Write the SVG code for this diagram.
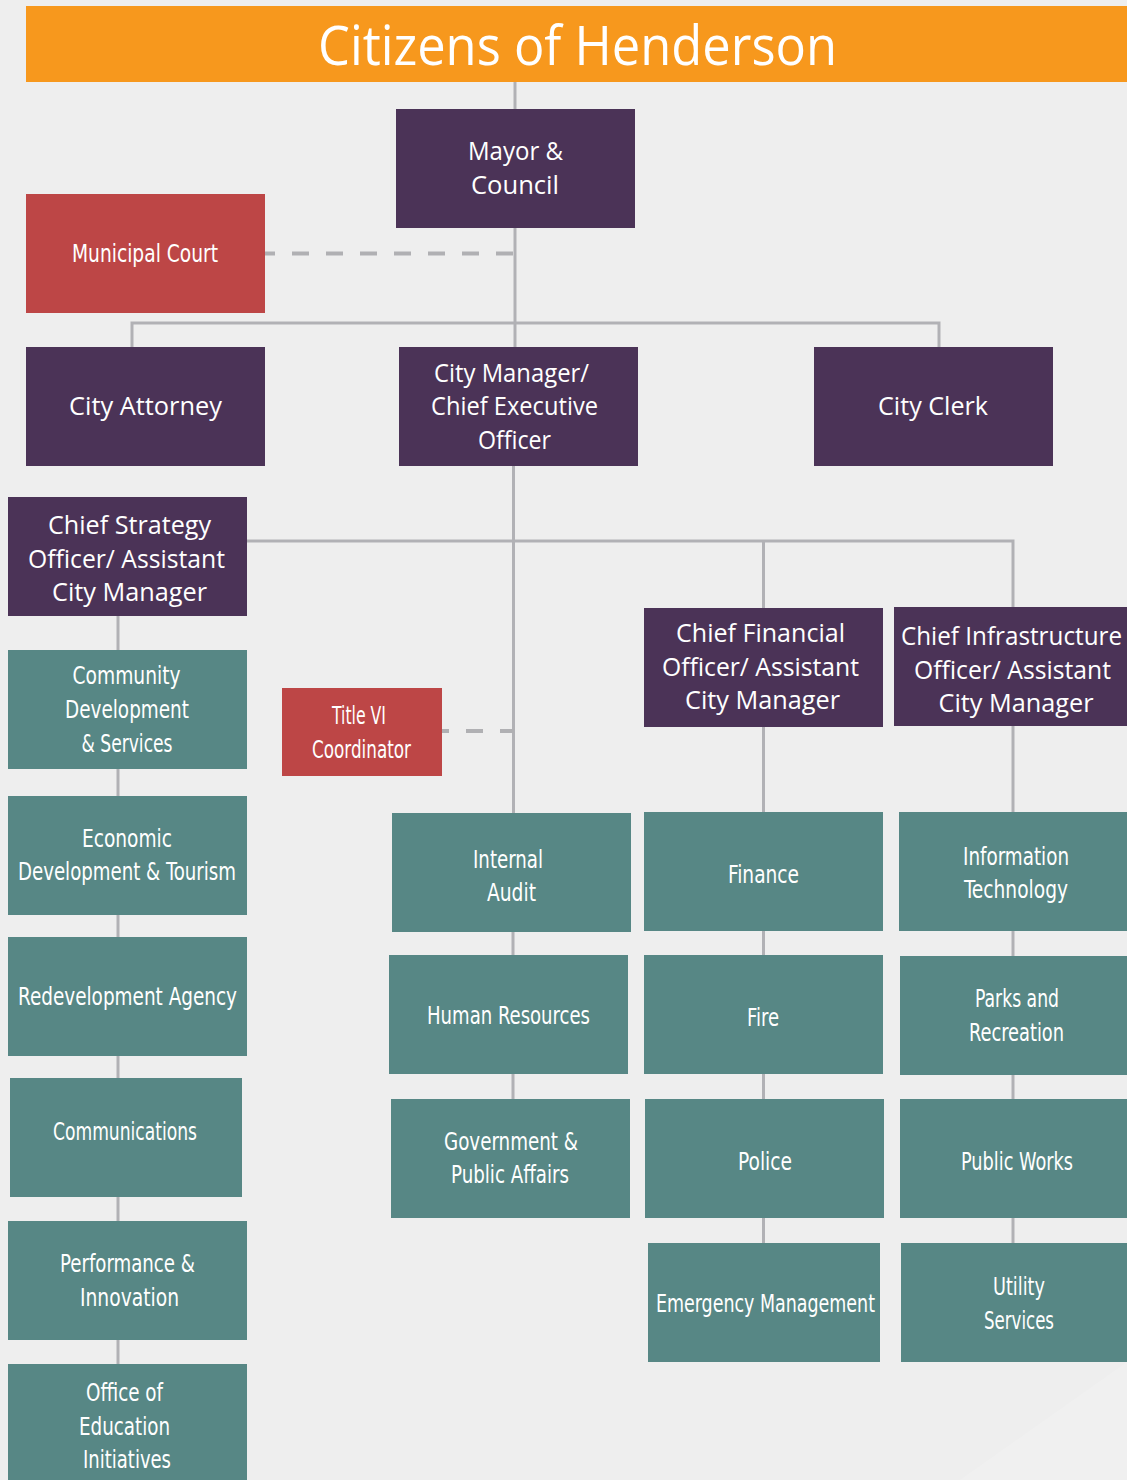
<svg xmlns="http://www.w3.org/2000/svg" width="1127" height="1480" viewBox="0 0 1127 1480">
<style>
.p{fill:#4b3357}.t{fill:#578785}.r{fill:#bd4646}
.pt{font-family:"Open Sans","Noto Sans",sans-serif;font-size:25px;fill:#ffffff;text-anchor:middle}
.tt{font-family:"Liberation Sans Narrow","DejaVu Sans Condensed","Liberation Sans",sans-serif;font-size:24px;fill:#ffffff;text-anchor:middle}
.ln{stroke:#b1b1b5;stroke-width:3;fill:none}
.ds{stroke:#b0b0b3;stroke-width:4;fill:none;stroke-dasharray:17 17}
</style>
<rect x="0" y="0" width="1127" height="1480" fill="#eeeeee"/>
<polygon points="1127,1362 960,1480 1127,1480" fill="#f0f0f0"/>
<g id="connectors">
<line class="ln" x1="515" y1="82" x2="515" y2="347"/>
<polyline class="ln" points="132,347 132,323 939,323 939,347"/>
<line class="ln" x1="513.5" y1="466" x2="513.5" y2="813"/>
<polyline class="ln" points="247,541 1013,541 1013,607"/>
<line class="ln" x1="763.5" y1="541" x2="763.5" y2="608"/>
<line class="ln" x1="118" y1="616" x2="118" y2="1364"/>
<line class="ln" x1="513" y1="932" x2="513" y2="1099"/>
<line class="ln" x1="763.5" y1="727" x2="763.5" y2="1243"/>
<line class="ln" x1="1013" y1="726" x2="1013" y2="1243"/>
<line class="ds" x1="265" y1="253.5" x2="514" y2="253.5" stroke-dashoffset="7"/>
<line class="ds" x1="442" y1="731" x2="514" y2="731" stroke-dashoffset="10"/>
</g>
<g id="citizens">
<rect x="26" y="6" width="1101" height="76" fill="#f7981d"/>
<text x="577.5" y="65" font-family="'Open Sans','Noto Sans',sans-serif" font-size="55" fill="#ffffff" text-anchor="middle" textLength="519" lengthAdjust="spacingAndGlyphs">Citizens of Henderson</text>
</g>
<g id="mayor">
<rect class="p" x="396" y="109" width="239" height="119"/>
<text class="pt" x="515.5" y="160" textLength="95" lengthAdjust="spacingAndGlyphs">Mayor &amp;</text>
<text class="pt" x="515" y="194" textLength="88" lengthAdjust="spacingAndGlyphs">Council</text>
</g>
<g id="municipal-court">
<rect class="r" x="26" y="194" width="239" height="119"/>
<text class="tt" x="145" y="262" textLength="146" lengthAdjust="spacingAndGlyphs">Municipal Court</text>
</g>
<g id="city-attorney">
<rect class="p" x="26" y="347" width="239" height="119"/>
<text class="pt" x="145.5" y="415" textLength="153" lengthAdjust="spacingAndGlyphs">City Attorney</text>
</g>
<g id="city-manager">
<rect class="p" x="399" y="347" width="239" height="119"/>
<text class="pt" x="511.5" y="382" textLength="155" lengthAdjust="spacingAndGlyphs">City Manager/</text>
<text class="pt" x="514.5" y="415" textLength="167" lengthAdjust="spacingAndGlyphs">Chief Executive</text>
<text class="pt" x="514.5" y="449" textLength="73" lengthAdjust="spacingAndGlyphs">Officer</text>
</g>
<g id="city-clerk">
<rect class="p" x="814" y="347" width="239" height="119"/>
<text class="pt" x="933" y="415" textLength="110" lengthAdjust="spacingAndGlyphs">City Clerk</text>
</g>
<g id="chief-strategy">
<rect class="p" x="8" y="497" width="239" height="119"/>
<text class="pt" x="129.5" y="534" textLength="163" lengthAdjust="spacingAndGlyphs">Chief Strategy</text>
<text class="pt" x="126.5" y="568" textLength="197" lengthAdjust="spacingAndGlyphs">Officer/ Assistant</text>
<text class="pt" x="129.5" y="601" textLength="155" lengthAdjust="spacingAndGlyphs">City Manager</text>
</g>
<g id="chief-financial">
<rect class="p" x="644" y="608" width="239" height="119"/>
<text class="pt" x="760.5" y="642" textLength="169" lengthAdjust="spacingAndGlyphs">Chief Financial</text>
<text class="pt" x="760.5" y="676" textLength="197" lengthAdjust="spacingAndGlyphs">Officer/ Assistant</text>
<text class="pt" x="762.5" y="709" textLength="155" lengthAdjust="spacingAndGlyphs">City Manager</text>
</g>
<g id="chief-infrastructure">
<rect class="p" x="894" y="607" width="236" height="119"/>
<text class="pt" x="1011.5" y="645" textLength="221" lengthAdjust="spacingAndGlyphs">Chief Infrastructure</text>
<text class="pt" x="1012.5" y="679" textLength="197" lengthAdjust="spacingAndGlyphs">Officer/ Assistant</text>
<text class="pt" x="1016" y="712" textLength="155" lengthAdjust="spacingAndGlyphs">City Manager</text>
</g>
<g id="title-vi">
<rect class="r" x="282" y="688" width="160" height="88"/>
<text class="tt" x="359" y="724" textLength="54" lengthAdjust="spacingAndGlyphs">Title VI</text>
<text class="tt" x="361.5" y="758" textLength="99" lengthAdjust="spacingAndGlyphs">Coordinator</text>
</g>
<g id="community-development">
<rect class="t" x="8" y="650" width="239" height="119"/>
<text class="tt" x="126.5" y="684" textLength="108" lengthAdjust="spacingAndGlyphs">Community</text>
<text class="tt" x="127" y="718" textLength="124" lengthAdjust="spacingAndGlyphs">Development</text>
<text class="tt" x="127" y="752" textLength="91" lengthAdjust="spacingAndGlyphs">&amp; Services</text>
</g>
<g id="economic-development">
<rect class="t" x="8" y="796" width="239" height="119"/>
<text class="tt" x="127" y="847" textLength="90" lengthAdjust="spacingAndGlyphs">Economic</text>
<text class="tt" x="127" y="880" textLength="218" lengthAdjust="spacingAndGlyphs">Development &amp; Tourism</text>
</g>
<g id="redevelopment">
<rect class="t" x="8" y="937" width="239" height="119"/>
<text class="tt" x="127.5" y="1005" textLength="219" lengthAdjust="spacingAndGlyphs">Redevelopment Agency</text>
</g>
<g id="communications">
<rect class="t" x="10" y="1078" width="232" height="119"/>
<text class="tt" x="125" y="1140" textLength="144" lengthAdjust="spacingAndGlyphs">Communications</text>
</g>
<g id="performance">
<rect class="t" x="8" y="1221" width="239" height="119"/>
<text class="tt" x="127.5" y="1272" textLength="135" lengthAdjust="spacingAndGlyphs">Performance &amp;</text>
<text class="tt" x="129.5" y="1306" textLength="99" lengthAdjust="spacingAndGlyphs">Innovation</text>
</g>
<g id="education">
<rect class="t" x="8" y="1364" width="239" height="120"/>
<text class="tt" x="124.5" y="1401" textLength="77" lengthAdjust="spacingAndGlyphs">Office of</text>
<text class="tt" x="124.5" y="1435" textLength="91" lengthAdjust="spacingAndGlyphs">Education</text>
<text class="tt" x="127" y="1468" textLength="88" lengthAdjust="spacingAndGlyphs">Initiatives</text>
</g>
<g id="internal-audit">
<rect class="t" x="392" y="813" width="239" height="119"/>
<text class="tt" x="508" y="868" textLength="70" lengthAdjust="spacingAndGlyphs">Internal</text>
<text class="tt" x="511.5" y="901" textLength="49" lengthAdjust="spacingAndGlyphs">Audit</text>
</g>
<g id="human-resources">
<rect class="t" x="389" y="955" width="239" height="119"/>
<text class="tt" x="508.5" y="1024" textLength="163" lengthAdjust="spacingAndGlyphs">Human Resources</text>
</g>
<g id="government">
<rect class="t" x="391" y="1099" width="239" height="119"/>
<text class="tt" x="511" y="1150" textLength="134" lengthAdjust="spacingAndGlyphs">Government &amp;</text>
<text class="tt" x="510" y="1183" textLength="118" lengthAdjust="spacingAndGlyphs">Public Affairs</text>
</g>
<g id="finance">
<rect class="t" x="644" y="812" width="239" height="119"/>
<text class="tt" x="763.5" y="883" textLength="71" lengthAdjust="spacingAndGlyphs">Finance</text>
</g>
<g id="fire">
<rect class="t" x="644" y="955" width="239" height="119"/>
<text class="tt" x="763" y="1026" textLength="32" lengthAdjust="spacingAndGlyphs">Fire</text>
</g>
<g id="police">
<rect class="t" x="645" y="1099" width="239" height="119"/>
<text class="tt" x="765" y="1170" textLength="54" lengthAdjust="spacingAndGlyphs">Police</text>
</g>
<g id="emergency">
<rect class="t" x="648" y="1243" width="232" height="119"/>
<text class="tt" x="765.5" y="1312" textLength="219" lengthAdjust="spacingAndGlyphs">Emergency Management</text>
</g>
<g id="information-technology">
<rect class="t" x="899" y="812" width="231" height="119"/>
<text class="tt" x="1016" y="865" textLength="106" lengthAdjust="spacingAndGlyphs">Information</text>
<text class="tt" x="1016" y="898" textLength="104" lengthAdjust="spacingAndGlyphs">Technology</text>
</g>
<g id="parks">
<rect class="t" x="900" y="956" width="230" height="119"/>
<text class="tt" x="1017" y="1007" textLength="84" lengthAdjust="spacingAndGlyphs">Parks and</text>
<text class="tt" x="1016.5" y="1041" textLength="95" lengthAdjust="spacingAndGlyphs">Recreation</text>
</g>
<g id="public-works">
<rect class="t" x="900" y="1099" width="230" height="119"/>
<text class="tt" x="1017" y="1170" textLength="112" lengthAdjust="spacingAndGlyphs">Public Works</text>
</g>
<g id="utility">
<rect class="t" x="901" y="1243" width="229" height="119"/>
<text class="tt" x="1019" y="1295" textLength="52" lengthAdjust="spacingAndGlyphs">Utility</text>
<text class="tt" x="1019" y="1329" textLength="70" lengthAdjust="spacingAndGlyphs">Services</text>
</g>
</svg>
